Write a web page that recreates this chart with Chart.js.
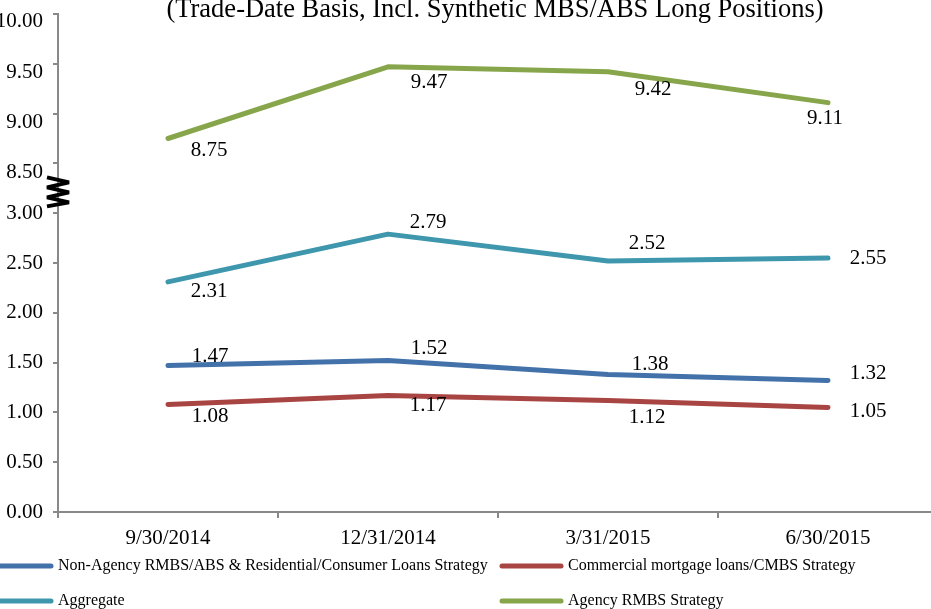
<!DOCTYPE html>
<html>
<head>
<meta charset="utf-8">
<script src="https://cdn.jsdelivr.net/npm/chart.js@4"></script>
<style>
  html, body { margin: 0; padding: 0; background: #fff; overflow: hidden; }
  #wrap { position: absolute; left: -10px; top: 0; width: 980px; height: 609px; }
</style>
</head>
<body>
<div id="wrap"><canvas id="LineChart"></canvas></div>
<script>
const quarters = ["9/30/2014", "12/31/2014", "3/31/2015", "6/30/2015"];

const nonAgency = [1.47, 1.52, 1.38, 1.32];
const commercial = [1.08, 1.17, 1.12, 1.05];
const aggregate = [2.31, 2.79, 2.52, 2.55];
const agencyRmbs = [8.75, 9.47, 9.42, 9.11];

const seriesNames = [
  "Non-Agency RMBS/ABS & Residential/Consumer Loans Strategy",
  "Commercial mortgage loans/CMBS Strategy",
  "Aggregate",
  "Agency RMBS Strategy",
];

// axis is broken between 3.00 and 8.50, upper part is shifted down by 5
const breakShift = 5;
const toAxis = (v) => (v > 5 ? v - breakShift : v);
const fromAxis = (v) => (v > 3.25 ? v + breakShift : v);

const colors = ["#4371a9", "#a84543", "#3f97ae", "#87a64b"];
const allValues = [nonAgency, commercial, aggregate, agencyRmbs];

// label offsets from each point (px)
const labelOffsets = [
  [[42, -9], [41, -12], [42, -10], [40, -7]],
  [[42, 12], [40, 10], [39, 17], [40, 4]],
  [[41, 10], [40, -12], [39, -18], [40, 0]],
  [[41, 12], [41, 16], [45, 18], [-3, 16]],
];

const serif = "'Liberation Serif', 'Times New Roman', serif";

const extras = {
  id: "extras",
  afterDatasetsDraw(chart) {
    const ctx = chart.ctx;
    const yScale = chart.scales.y;
    const ax = chart.chartArea.left;
    ctx.save();
    // data labels
    ctx.fillStyle = "#000";
    ctx.font = "21px " + serif;
    ctx.textAlign = "center";
    ctx.textBaseline = "middle";
    allValues.forEach((vals, i) => {
      const meta = chart.getDatasetMeta(i);
      meta.data.forEach((pt, j) => {
        const off = labelOffsets[i][j];
        ctx.fillText(vals[j].toFixed(2), pt.x + off[0], pt.y + off[1]);
      });
    });

    // upper (broken) axis labels sit a bit lower than their ticks
    ctx.textAlign = "right";
    yScale.ticks.forEach((t) => {
      if (t.value > 3.25) {
        const off = t.value === 5 ? 7 : 9;
        ctx.fillText(fromAxis(t.value).toFixed(2), ax - 15, yScale.getPixelForValue(t.value) + off);
      }
    });

    // title (top line is cut off)
    ctx.textAlign = "center";
    ctx.textBaseline = "alphabetic";
    ctx.font = "26.5px " + serif;
    ctx.fillText("(Trade-Date Basis, Incl. Synthetic MBS/ABS Long Positions)", 505, 17);

    // axis break mark
    const yTop = yScale.getPixelForValue(3.5) + 14;
    ctx.strokeStyle = "#000";
    ctx.lineWidth = 4;
    ctx.lineJoin = "miter";
    ctx.miterLimit = 1.6;
    ctx.beginPath();
    const zz = [[-11, 0], [11, 5], [-11, 10], [11, 15], [-11, 20], [11, 25], [-11, 29]];
    zz.forEach((p, k) => {
      if (k === 0) ctx.moveTo(ax + p[0], yTop + p[1]);
      else ctx.lineTo(ax + p[0], yTop + p[1]);
    });
    ctx.stroke();

    // legend, two columns
    const cols = [10, 520];
    const rows = [566, 601];
    ctx.font = "16px " + serif;
    ctx.textAlign = "left";
    ctx.textBaseline = "middle";
    ctx.lineWidth = 5;
    ctx.lineCap = "round";
    seriesNames.forEach((name, i) => {
      const x = cols[i % 2];
      const y = rows[Math.floor(i / 2)];
      ctx.strokeStyle = colors[i];
      ctx.beginPath();
      ctx.moveTo(x - 8, y);
      ctx.lineTo(x + 51, y);
      ctx.stroke();
      ctx.fillText(name, x + 58, y);
    });
    ctx.restore();
  },
};

const ctx = document.getElementById("LineChart");
const LineChart = new Chart(ctx, {
  type: "line",
  data: {
    labels: quarters,
    datasets: allValues.map((vals, i) => ({
      label: seriesNames[i],
      data: vals.map(toAxis),
      borderColor: colors[i],
      backgroundColor: colors[i],
      borderWidth: 5,
      borderCapStyle: "round",
      borderJoinStyle: "round",
      pointRadius: 0,
      tension: 0,
    })),
  },
  options: {
    responsive: true,
    maintainAspectRatio: false,
    animation: false,
    layout: { padding: { top: 14, right: 32, left: 0, bottom: 0 } },
    plugins: {
      legend: { display: false },
      title: { display: false },
      tooltip: { enabled: false },
    },
    scales: {
      x: {
        offset: true,
        grid: {
          offset: true,
          drawOnChartArea: false,
          drawTicks: true,
          tickLength: 6,
          color: "#898989",
          lineWidth: 2,
        },
        border: { color: "#898989", width: 2 },
        ticks: {
          color: "#000",
          font: { family: serif, size: 21 },
          padding: 8,
          maxRotation: 0,
        },
        afterFit(scale) {
          scale.height = 97;
        },
      },
      y: {
        min: 0,
        max: 5,
        ticks: {
          stepSize: 0.5,
          color: "#000",
          font: { family: serif, size: 21 },
          padding: 10,
          callback: (v) => (v > 3.25 ? "" : v.toFixed(2)),
        },
        grid: {
          drawOnChartArea: false,
          drawTicks: true,
          tickLength: 5,
          color: "#898989",
          lineWidth: 2,
        },
        border: { color: "#898989", width: 2 },
        afterFit(scale) {
          scale.width = 68;
          scale.paddingTop = 0;
          scale.paddingBottom = 0;
        },
      },
    },
  },
  plugins: [extras],
});
</script>
</body>
</html>
